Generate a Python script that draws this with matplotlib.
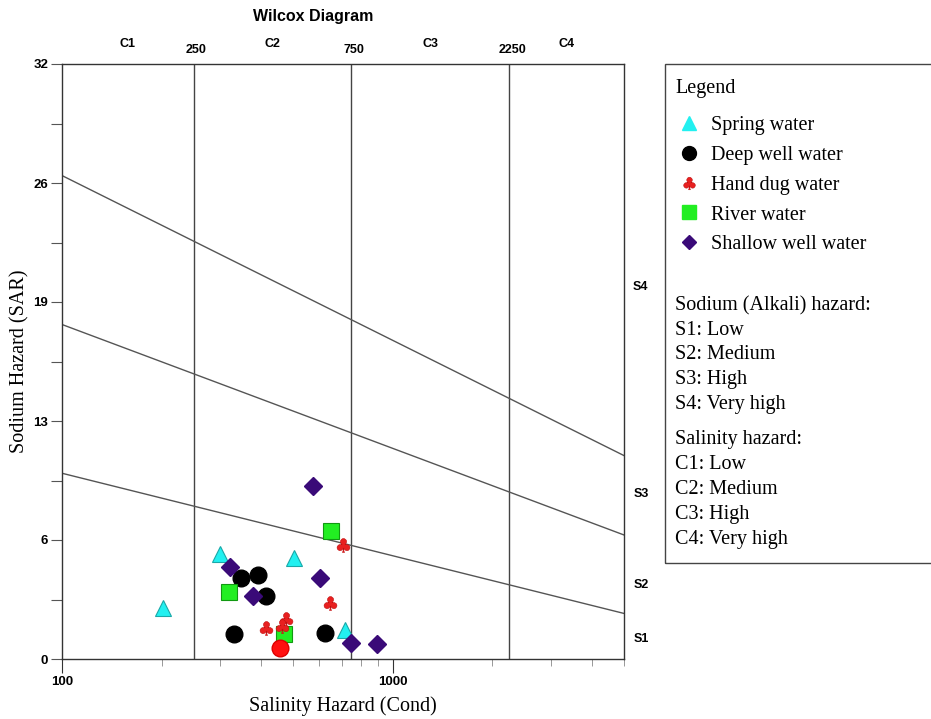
import numpy as np
import matplotlib
matplotlib.use("Agg")
import matplotlib.pyplot as plt
from matplotlib.patches import Rectangle
from matplotlib.lines import Line2D

# ---- data ----
spring_x = [202, 300, 502, 719]
spring_y = [2.73, 5.65, 5.42, 1.56]

deep_x = [347, 390, 415, 330, 626]
deep_y = [4.37, 4.52, 3.39, 1.34, 1.41]

hand_x = [708, 645, 413, 477, 462]
hand_y = [6.13, 3.00, 1.68, 2.13, 1.77]

river_x = [650, 320, 469]
river_y = [6.88, 3.59, 1.33]

shallow_x = [572, 323, 378, 602, 746, 893]
shallow_y = [9.32, 4.96, 3.40, 4.37, 0.88, 0.79]

# odd red dot, not in the legend
extra_x = [456]
extra_y = [0.61]

# salinity class limits (uS/cm) and sodium hazard boundaries (EC 100 -> 5000)
c_bounds = [100, 250, 750, 2250, 5000]
c_labels = ["C1", "C2", "C3", "C4"]
s_ec = [100, 5000]
s_lines = [[9.99, 2.45], [17.99, 6.67], [26.0, 10.94]]
s_labels = ["S1", "S2", "S3", "S4"]
s_label_y = [1.1, 4.0, 8.9, 20.0]

y_major = [0, 6.4, 12.8, 19.2, 25.6, 32]
y_major_lbl = ["0", "6", "13", "19", "26", "32"]
y_minor = [3.2, 9.6, 16.0, 22.4, 28.8]

sodium_txt = ["Sodium (Alkali) hazard:", "S1: Low", "S2: Medium", "S3: High", "S4: Very high"]
salinity_txt = ["Salinity hazard:", "C1: Low", "C2: Medium", "C3: High", "C4: Very high"]

# ---- figure ----
W, H = 931, 719
fig = plt.figure(figsize=(W / 100, H / 100), dpi=100)
fx = lambda px: px / W
fy = lambda py: 1 - py / H

ax = fig.add_axes([fx(62), fy(659), (624 - 62) / W, (659 - 64) / H])

bold_sans = ["Liberation Sans", "DejaVu Sans"]
serif = ["Liberation Serif", "DejaVu Serif"]

ax.set_xscale("log")
ax.set_xlim(100, 5000)
ax.set_ylim(0, 32)

for c in c_bounds[1:-1]:
    ax.axvline(c, color="#444444", lw=1.0, zorder=1)
for ys in s_lines:
    ax.plot(s_ec, ys, color="#555555", lw=1.0, zorder=1)

ax.plot(spring_x, spring_y, ls="none", marker="^", ms=12, mfc="#22f0f0", mec="#1aa8a8", mew=0.8, zorder=3)
ax.plot(deep_x, deep_y, ls="none", marker="o", ms=12, mfc="black", mec="black", zorder=3)
ax.plot(river_x, river_y, ls="none", marker="s", ms=11.5, mfc="#22ee22", mec="#119911", mew=0.8, zorder=3)
ax.plot(shallow_x, shallow_y, ls="none", marker="D", ms=9, mfc="#3a0a78", mec="#3a0a78", zorder=3)
ax.plot(hand_x, hand_y, ls="none", marker=r"$\clubsuit$", ms=10, mfc="#e82020", mec="#c01010", mew=0.4, zorder=4)
ax.plot(extra_x, extra_y, ls="none", marker="o", ms=12, mfc="#ff1010", mec="#dd0000", zorder=4)

# ticks
ax.set_yticks(y_major)
ax.set_yticklabels(y_major_lbl)
ax.set_yticks(y_minor, minor=True)
ax.set_xticks([100, 1000])
ax.set_xticklabels(["100", "1000"])
ax.tick_params(axis="y", which="both", direction="out", length=8, width=0.8, color="#555555", pad=2)
ax.tick_params(axis="x", which="major", direction="out", length=10, width=0.8, color="#333333", pad=2)
ax.tick_params(axis="x", which="minor", direction="out", length=5, width=0.6, color="#888888")
ax.xaxis.set_minor_formatter(matplotlib.ticker.NullFormatter())
for lab in ax.get_xticklabels() + ax.get_yticklabels():
    lab.set_family(bold_sans)
    lab.set_fontweight("bold")
    lab.set_fontsize(9.5)
for sp in ax.spines.values():
    sp.set_color("#333333")
    sp.set_linewidth(1.0)

ax.set_xlabel("Salinity Hazard (Cond)", family=serif, fontsize=14.5)
ax.set_ylabel("Sodium Hazard (SAR)", family=serif, fontsize=14.5)
ax.xaxis.set_label_coords(0.5, -(706 - 659) / 595)
ax.yaxis.set_label_coords(-(62 - 20) / 562, 0.5)
ax.xaxis.label.set_va("center")
ax.yaxis.label.set_va("center")

# top labels
trans_top = matplotlib.transforms.blended_transform_factory(ax.transData, ax.transAxes)
for i, lab in enumerate(c_labels):
    xc = np.sqrt(c_bounds[i] * c_bounds[i + 1])
    ax.text(xc, 1.034, lab, transform=trans_top, ha="center", va="center",
            family=bold_sans, fontweight="bold", fontsize=9)
for c in c_bounds[1:-1]:
    ax.text(c * 1.02, 1.024, str(c), transform=trans_top, ha="center", va="center",
            family=bold_sans, fontweight="bold", fontsize=9)

trans_right = matplotlib.transforms.blended_transform_factory(ax.transAxes, ax.transData)
for lab, yv in zip(s_labels, s_label_y):
    ax.text(1.03, yv, lab, transform=trans_right, ha="center", va="center",
            family=bold_sans, fontweight="bold", fontsize=9)

fig.text(fx(313), fy(17), "Wilcox Diagram", ha="center", va="center",
         family=bold_sans, fontweight="bold", fontsize=11.5)

# legend box
fig.add_artist(Rectangle((fx(665), fy(563)), fx(300), (563 - 64) / H, transform=fig.transFigure,
                         fill=False, edgecolor="#444444", lw=1.0))

handles = [
    Line2D([], [], ls="none", marker="^", ms=10, mfc="#22f0f0", mec="#22f0f0"),
    Line2D([], [], ls="none", marker="o", ms=10, mfc="black", mec="black"),
    Line2D([], [], ls="none", marker=r"$\clubsuit$", ms=9, mfc="#e82020", mec="#c01010", mew=0.4),
    Line2D([], [], ls="none", marker="s", ms=9.5, mfc="#22ee22", mec="#22ee22"),
    Line2D([], [], ls="none", marker="D", ms=7.5, mfc="#3a0a78", mec="#3a0a78"),
]
labels = ["Spring water", "Deep well water", "Hand dug water", "River water", "Shallow well water"]
fig.text(fx(675), fy(88), "Legend", ha="left", va="center", family=serif, fontsize=14.5)
leg = fig.legend(handles, labels, loc="upper left", bbox_to_anchor=(fx(657), fy(100)),
                 frameon=False,
                 prop={"family": serif, "size": 14.5},
                 labelspacing=0.53, handletextpad=0.3, handlelength=1.6, borderpad=0.3)

for i, t in enumerate(sodium_txt):
    fig.text(fx(675), fy(306 + i * 24.5), t, ha="left", va="center", family=serif, fontsize=14.5)
for i, t in enumerate(salinity_txt):
    fig.text(fx(675), fy(440 + i * 24.8), t, ha="left", va="center", family=serif, fontsize=14.5)

fig.savefig("out.png", dpi=100)
